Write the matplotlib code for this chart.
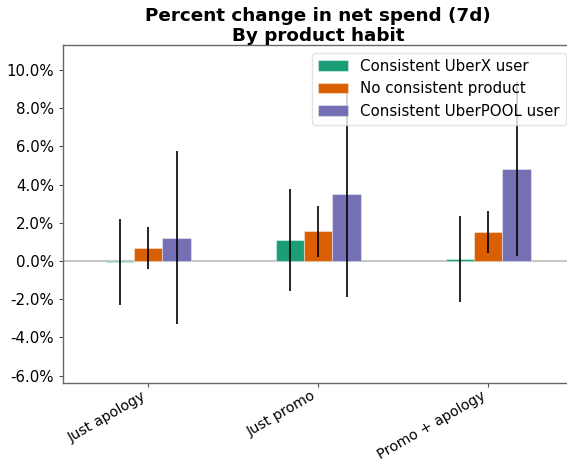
import numpy as np
import matplotlib
matplotlib.use("Agg")
import matplotlib.pyplot as plt
from matplotlib.ticker import FuncFormatter

# data (fractions)
treatments = ["Just apology", "Just promo", "Promo + apology"]
series = ["Consistent UberX user", "No consistent product", "Consistent UberPOOL user"]
uberx = [-0.0005, 0.0108, 0.0012]
no_product = [0.0066, 0.0155, 0.0153]
uberpool = [0.0122, 0.0349, 0.0483]
uberx_err = [0.0225, 0.0267, 0.0225]
no_product_err = [0.0110, 0.0132, 0.0110]
uberpool_err = [0.0454, 0.0537, 0.0455]

colors = ["#1b9e77", "#d95f02", "#7570b3"]

fig = plt.figure(figsize=(5.67, 4.65), dpi=100)
# axes runs slightly past the right edge, like the cropped original
ax = fig.add_axes([0.1116, 0.1757, 0.8995, 0.7275])

values = [uberx, no_product, uberpool]
errors = [uberx_err, no_product_err, uberpool_err]
x = np.arange(len(treatments))
width = 0.5 / len(series)

for i, (vals, errs) in enumerate(zip(values, errors)):
    pos = x + (i - 1) * width
    ax.bar(pos, vals, width, color=colors[i], label=series[i],
           edgecolor=(1, 1, 1, 0.4), linewidth=0.8, zorder=2)
    ax.errorbar(pos, vals, yerr=errs, fmt="none", ecolor="black",
                elinewidth=1.2, capsize=0, zorder=3)

ax.axhline(0, color="#c8c8c8", lw=1.5, zorder=1)

ax.set_xlim(-0.5, 2.5)
ax.set_ylim(-0.064, 0.1131)
ax.set_yticks(np.arange(-0.06, 0.101, 0.02))
ax.yaxis.set_major_formatter(FuncFormatter(lambda v, p: "{:.1%}".format(v)))
ax.set_xticks(x)
ax.set_xticklabels(treatments, rotation=30, ha="right")
ax.tick_params(labelsize=10.8, color="#555555", length=3)
ax.tick_params(axis="x", pad=1, labelsize=10.3)

for s in ax.spines.values():
    s.set_color("#666666")
    s.set_linewidth(1.0)

ax.set_title("Percent change in net spend (7d)\nBy product habit",
             fontsize=13.2, fontweight="bold", linespacing=1.12, pad=1)

leg = ax.legend(loc="upper right", fontsize=10.8, framealpha=0.8,
                edgecolor="#dddddd", fancybox=True)

fig.savefig("out.png", dpi=100)
